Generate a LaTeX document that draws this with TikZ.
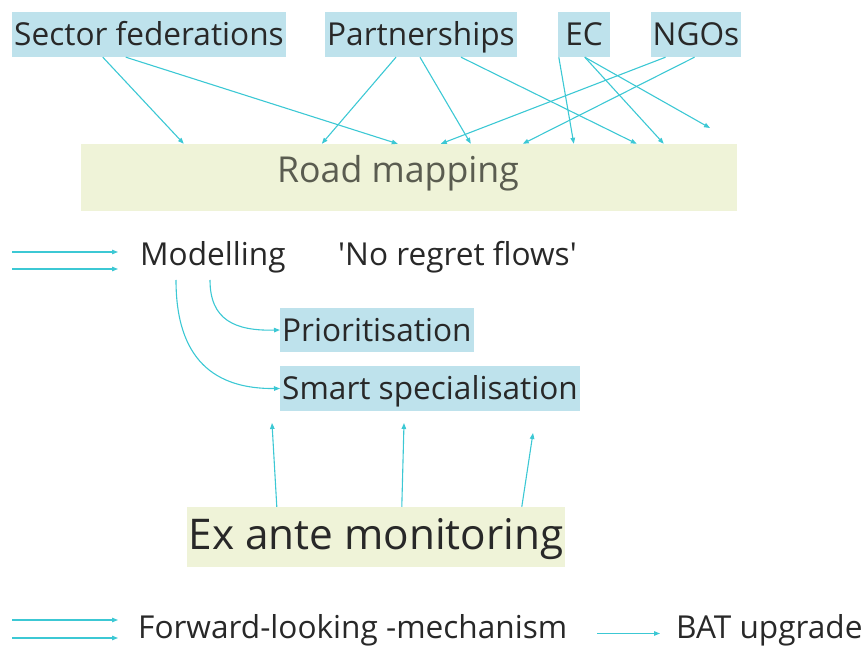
\documentclass[tikz,border=0pt]{standalone}
\usepackage{fontspec}
\setmainfont{Open Sans}
\usetikzlibrary{arrows.meta}
\definecolor{boxblue}{RGB}{190,226,236}
\definecolor{boxgreen}{RGB}{239,243,216}
\definecolor{flow}{RGB}{60,200,212}
\definecolor{ink}{RGB}{40,40,40}
\definecolor{roadgray}{RGB}{90,92,80}
\begin{document}
\begin{tikzpicture}[x=1pt,y=-1pt,
  textsize/.style={font=\fontsize{31.6}{36}\selectfont},
  actor/.style={textsize, fill=boxblue, text=ink,
    inner xsep=2pt, inner ysep=0pt, minimum height=45pt,
    text height=22.6pt, text depth=0pt},
  plain/.style={textsize, text=ink, inner sep=0pt,
    text height=22.6pt, text depth=0pt},
  stage/.style={fill=boxgreen, inner sep=0pt},
  flowarrow/.style={draw=flow, line width=1.1pt, -{Triangle[length=6pt,width=4.5pt]}}]
\useasboundingbox (0,0) rectangle (868,647);

% stakeholders
\node[actor, minimum width=274pt] (sf)  at (149,34.5) {Sector federations};
\node[actor, minimum width=190pt] (pa)  at (421,34.5) {Partnerships};
\node[actor, minimum width=52pt]  (ec)  at (584,34.5) {EC};
\node[actor, minimum width=88pt]  (ngo) at (696,34.5) {NGOs};

% road mapping
\node[stage, minimum width=656pt, minimum height=67pt, text=roadgray,
      text height=25.5pt, text depth=14.5pt,
      font=\fontsize{35.7}{40}\selectfont] (rm) at (409,177.5) {\hspace*{-22pt}Road mapping};

% modelling row
\node[plain, anchor=west] (mod) at (140,254.5) {Modelling};
\node[plain, anchor=west] (nrf) at (338,254.5) {\textquotesingle No regret flows\textquotesingle};

\node[actor, anchor=west, minimum height=44pt] (pri) at (280,330) {Prioritisation};
\node[actor, anchor=west] (ss) at (280,388.5) {Smart specialisation};

% ex ante monitoring
\node[stage, minimum width=378pt, minimum height=60pt, text=ink,
      text height=30.2pt, text depth=6pt,
      font=\fontsize{42.3}{48}\selectfont] (ea) at (376,537) {Ex ante monitoring};

% bottom row
\node[plain, anchor=west] (flm) at (138,627.5) {Forward-looking -mechanism};
\node[plain, anchor=west] (bat) at (676,627.5) {BAT upgrade};

% free ends
\coordinate (ecfree) at (710,128);
\coordinate (ml1) at (12,252);
\coordinate (ml2) at (12,269);
\coordinate (mr1) at (118,252);
\coordinate (mr2) at (118,269);
\coordinate (fl1) at (12,620);
\coordinate (fl2) at (12,638);
\coordinate (fr1) at (118,620);
\coordinate (fr2) at (118,638);
\coordinate (up1) at (272,423);
\coordinate (up2) at (404,423);
\coordinate (up3) at (533,433);

% stakeholders into road mapping
\draw[flowarrow] ([xshift=91pt]sf.south west)  -- ([xshift=103pt]rm.north west);
\draw[flowarrow] ([xshift=114pt]sf.south west) -- ([xshift=317pt]rm.north west);
\draw[flowarrow] ([xshift=71pt]pa.south west)  -- ([xshift=241pt]rm.north west);
\draw[flowarrow] ([xshift=95pt]pa.south west)  -- ([xshift=390pt]rm.north west);
\draw[flowarrow] ([xshift=136pt]pa.south west) -- ([xshift=556pt]rm.north west);
\draw[flowarrow] ([xshift=1pt]ec.south west)   -- ([xshift=493pt]rm.north west);
\draw[flowarrow] ([xshift=27pt]ec.south west)  -- ([xshift=583pt]rm.north west);
\draw[flowarrow] ([xshift=27pt]ec.south west)  -- (ecfree);
\draw[flowarrow] ([xshift=15pt]ngo.south west) -- ([xshift=360pt]rm.north west);
\draw[flowarrow] ([xshift=44pt]ngo.south west) -- ([xshift=442pt]rm.north west);

% modelling flows
\draw[flowarrow] (ml1) -- (mr1);
\draw[flowarrow] (ml2) -- (mr2);
\draw[flowarrow] (210,280)
  .. controls (210,320) and (235,331) .. (pri.west);
\draw[flowarrow] (176,280)
  .. controls (176,360) and (215,389) .. (ss.west);

% monitoring feeds specialisation
\draw[flowarrow] ([xshift=90pt]ea.north west)  -- (up1);
\draw[flowarrow] ([xshift=215pt]ea.north west) -- (up2);
\draw[flowarrow] ([xshift=335pt]ea.north west) -- (up3);

% bottom flows
\draw[flowarrow] (fl1) -- (fr1);
\draw[flowarrow] (fl2) -- (fr2);
\draw[flowarrow, shorten <=30pt, shorten >=16pt] ([yshift=-6pt]flm.east) -- ([yshift=-6pt]bat.west);
\end{tikzpicture}
\end{document}
